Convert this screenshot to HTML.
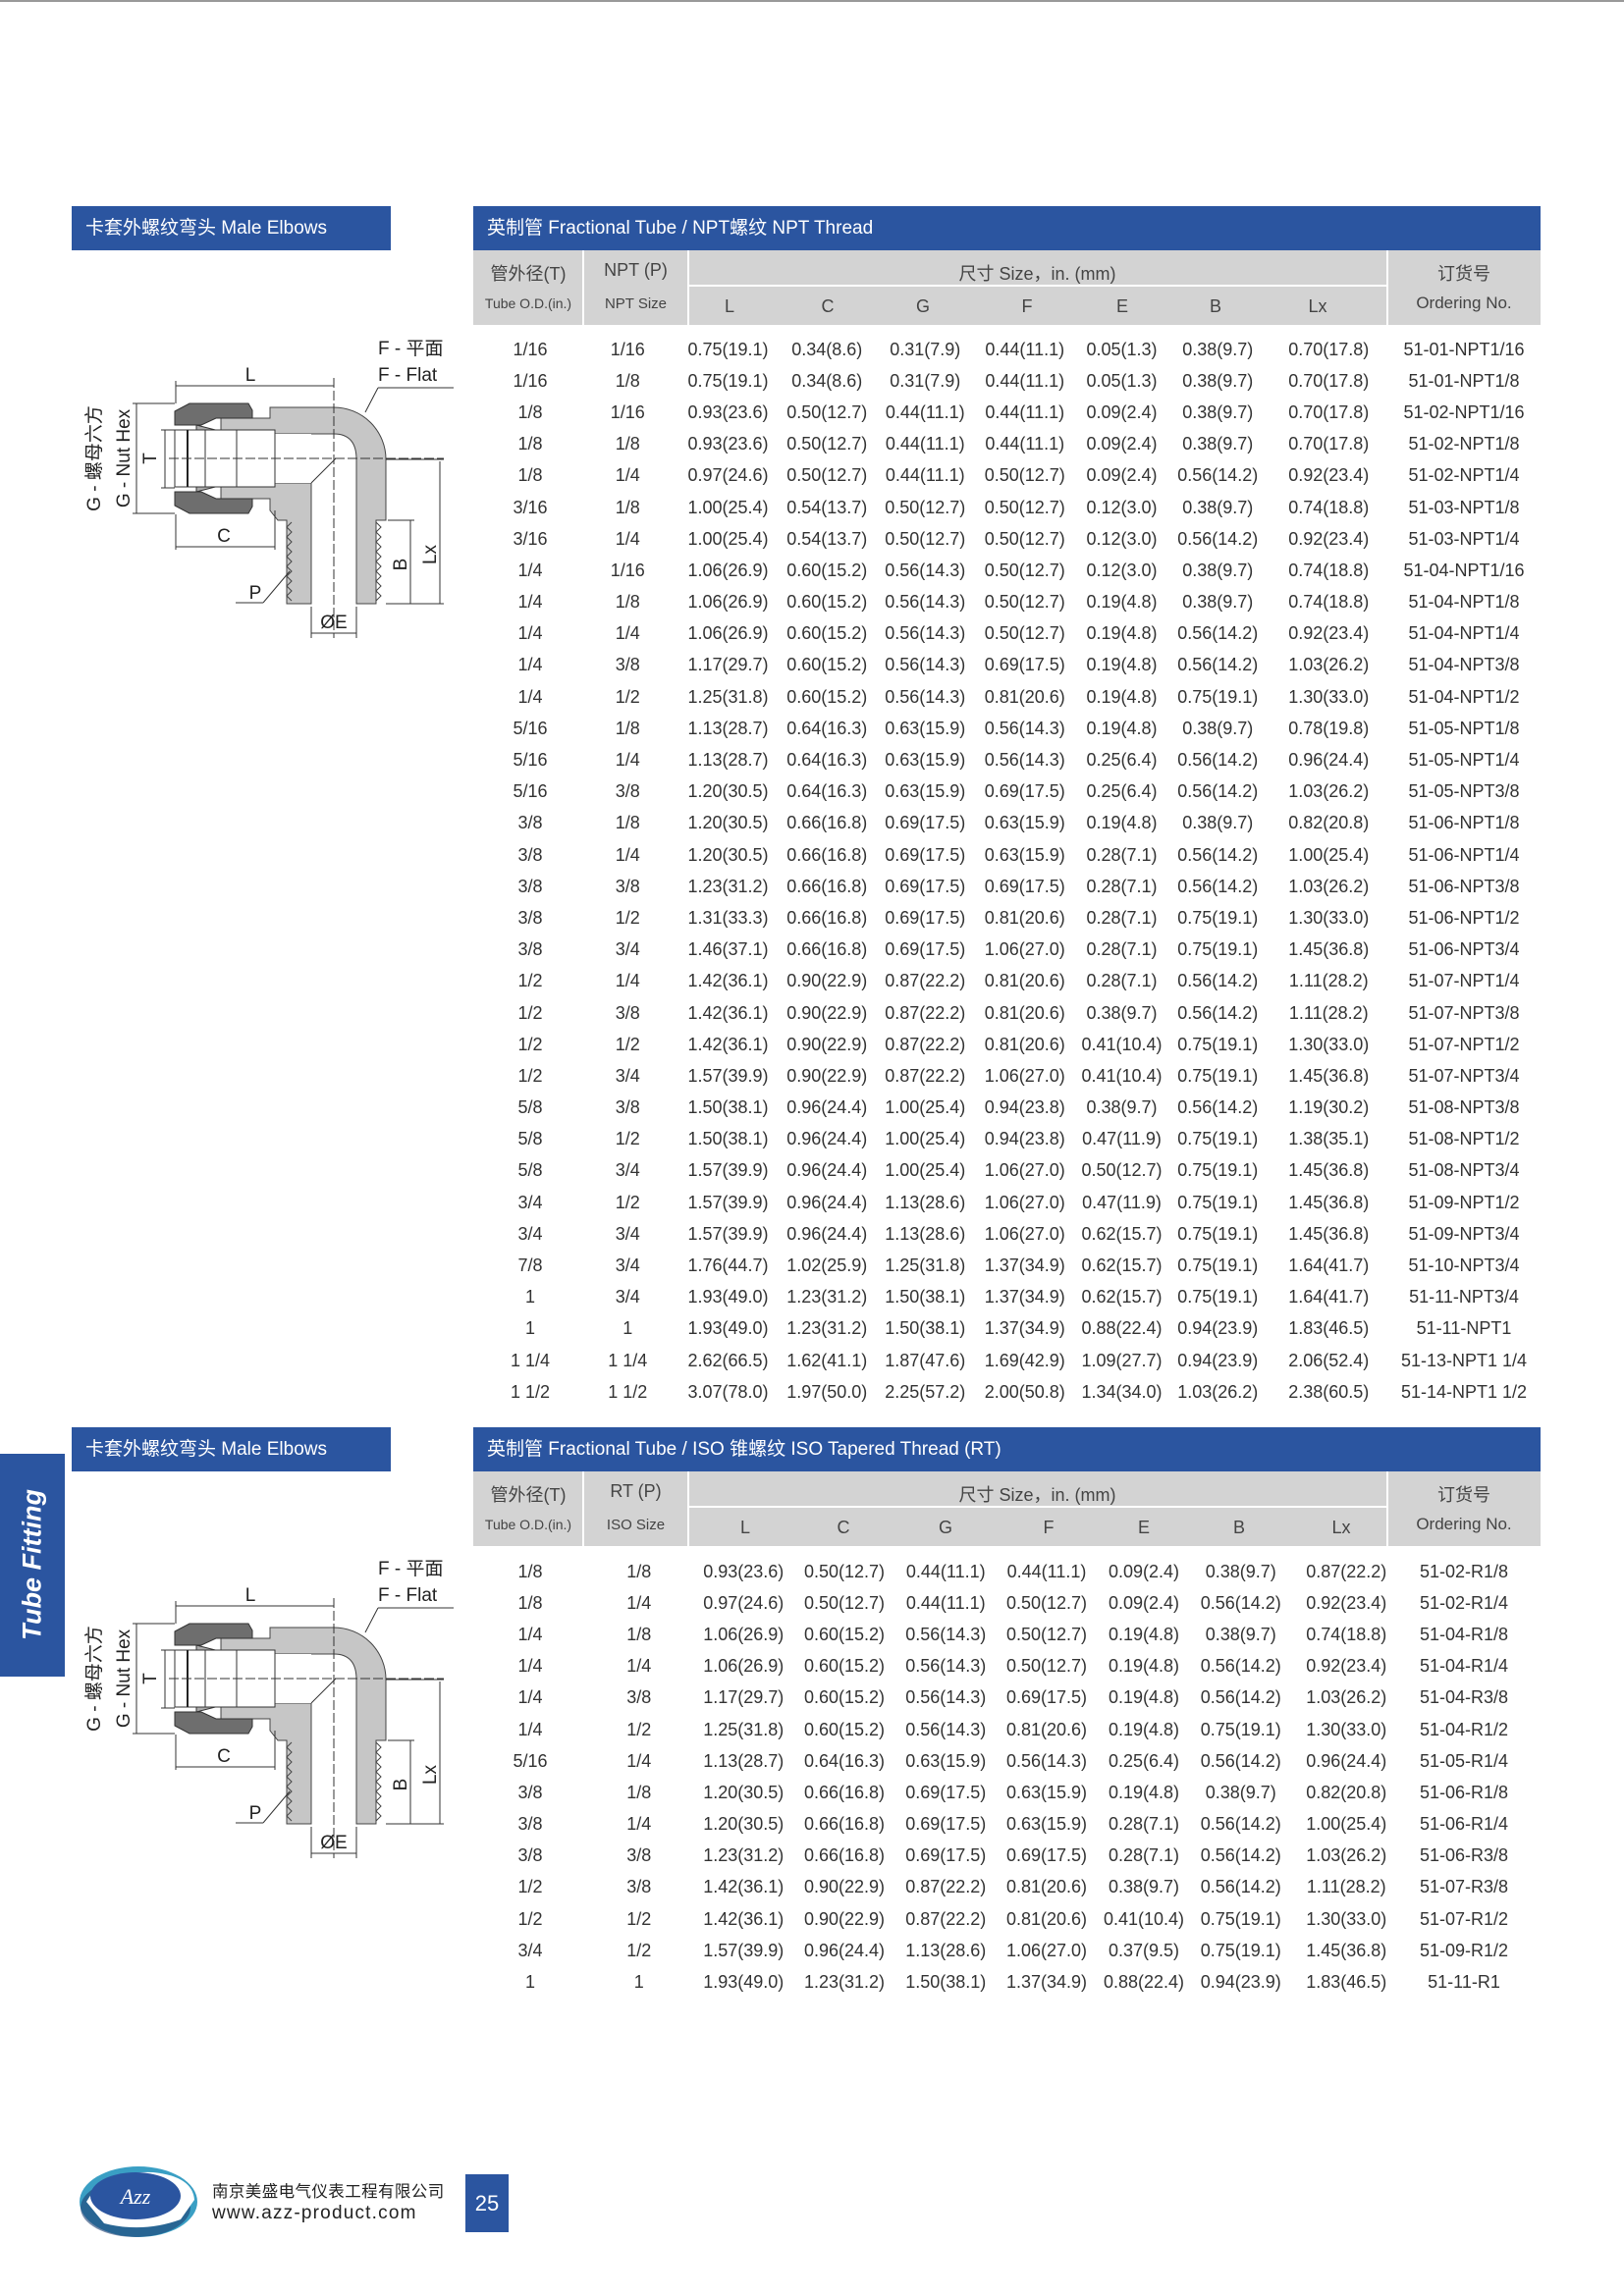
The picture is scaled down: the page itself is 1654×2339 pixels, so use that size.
<!DOCTYPE html>
<html><head><meta charset="utf-8">
<style>
*{margin:0;padding:0;box-sizing:border-box}
body{width:1654px;height:2339px;position:relative;background:#fff;font-family:"Liberation Sans","Noto Sans CJK SC",sans-serif;color:#333;overflow:hidden}
.abs{position:absolute}
.bar{position:absolute;background:#2b55a0;color:#fff;font-size:19px;line-height:45px;padding-left:14px;white-space:nowrap}
.gray{position:absolute;background:#d3d3d3}
.vl{position:absolute;background:#fff;width:2px}
.hd{position:absolute;text-align:center;white-space:nowrap;color:#444}
.rows{position:absolute}
.r{display:flex;align-items:center;white-space:nowrap;font-size:18px;color:#333}
.r span{text-align:center;flex:none}
#t1 .r{height:32.2px}
#t2 .r{height:32.2px}
#t1 .r span:nth-child(1){width:97px}#t1 .r span:nth-child(2){width:101.5px}#t1 .r span:nth-child(3){width:103px}#t1 .r span:nth-child(4){width:98.5px}#t1 .r span:nth-child(5){width:101.5px}#t1 .r span:nth-child(6){width:101.5px}#t1 .r span:nth-child(7){width:96px}#t1 .r span:nth-child(8){width:99.5px}#t1 .r span:nth-child(9){width:126.5px}#t1 .r span:nth-child(10){width:149px}
#t2 .r span:nth-child(1){width:112px}#t2 .r span:nth-child(2){width:109.5px}#t2 .r span:nth-child(3){width:103.5px}#t2 .r span:nth-child(4){width:102px}#t2 .r span:nth-child(5){width:104.5px}#t2 .r span:nth-child(6){width:101px}#t2 .r span:nth-child(7){width:97px}#t2 .r span:nth-child(8){width:100.5px}#t2 .r span:nth-child(9){width:114.5px}#t2 .r span:nth-child(10){width:125px}
svg text{font-family:"Liberation Sans","Noto Sans CJK SC",sans-serif;fill:#222}
</style></head><body>
<div class="abs" style="left:0;top:0;width:1654px;height:2px;background:#999"></div>

<svg width="0" height="0" style="position:absolute">
<defs>
<g id="fit">
 <path d="M165,106 L215,106 L215,95 L280,95 A53,53 0 0 1 333,148 L333,210 L323,210 L323,295 L303,295 L303,148 Q303,122 280,122 L165,122 Z" fill="#c6c6c6" stroke="#444" stroke-width="1"/>
 <path d="M165,188 L215,188 L215,200 L223,210 L232,210 L232,295 L257,295 L257,172 L165,172 Z" fill="#c6c6c6" stroke="#444" stroke-width="1"/>
 <path d="M118,99 L133,91 L193,91 L197,98 L197,106 L160,106 L145,113 L118,113 Z" fill="#6e6e6e" stroke="#333" stroke-width="1"/>
 <path d="M118,195 L133,203 L193,203 L197,196 L197,188 L160,188 L145,181 L118,181 Z" fill="#6e6e6e" stroke="#333" stroke-width="1"/>
 <path d="M140,113 L175,122 L175,172 L140,181 Z" fill="#aaa" stroke="#333" stroke-width="1"/>
 <rect x="118" y="118" width="102" height="58" fill="#fff" stroke="#333" stroke-width="1"/>
 <rect x="220" y="122" width="37" height="50" fill="#fff"/>
 <line x1="131" y1="118" x2="131" y2="176" stroke="#222" stroke-width="2"/>
 <line x1="149" y1="118" x2="149" y2="176" stroke="#333"/>
 <line x1="181" y1="118" x2="181" y2="176" stroke="#333"/>
 <line x1="220" y1="122" x2="220" y2="172" stroke="#333"/>
 <line x1="257" y1="172" x2="282" y2="147" stroke="#333"/>
 <polyline points="237,212 232,217 237,222 232,227 237,232 232,237 237,242 232,247 237,252 232,257 237,262 232,267 237,272 232,277 237,282 232,287 237,292" fill="none" stroke="#444"/>
 <polyline points="323,212 328,217 323,222 328,227 323,232 328,237 323,242 328,247 323,252 328,257 323,262 328,267 323,272 328,277 323,282 328,287 323,292" fill="none" stroke="#444"/>
 <line x1="112" y1="147" x2="392" y2="147" stroke="#333" stroke-dasharray="10,3"/>
 <line x1="280" y1="65" x2="280" y2="330" stroke="#333" stroke-dasharray="10,3"/>
 <g stroke="#333" stroke-width="1" fill="none">
  <line x1="119" y1="73" x2="280" y2="73"/><line x1="119" y1="68" x2="119" y2="91"/>
  <line x1="119" y1="237" x2="220" y2="237"/><line x1="119" y1="204" x2="119" y2="240"/><line x1="220" y1="200" x2="220" y2="240"/>
  <line x1="79" y1="91" x2="79" y2="203"/><line x1="75" y1="91" x2="118" y2="91"/><line x1="75" y1="203" x2="118" y2="203"/>
  <line x1="108" y1="118" x2="108" y2="177"/><line x1="104" y1="118" x2="118" y2="118"/><line x1="104" y1="177" x2="118" y2="177"/>
  <line x1="388" y1="150" x2="388" y2="295"/><line x1="333" y1="148" x2="392" y2="148"/><line x1="333" y1="295" x2="392" y2="295"/>
  <line x1="358" y1="210" x2="358" y2="295"/><line x1="335" y1="210" x2="362" y2="210"/>
  <line x1="257" y1="298" x2="257" y2="330"/><line x1="303" y1="298" x2="303" y2="330"/><line x1="257" y1="325" x2="303" y2="325"/>
  <line x1="180" y1="294" x2="208" y2="294"/><line x1="208" y1="294" x2="235" y2="262"/>
  <line x1="325" y1="75" x2="402" y2="75"/><line x1="325" y1="75" x2="312" y2="100"/>
 </g>
</g>
</defs>
</svg>

<div class="bar" style="left:73px;top:210px;width:325px">卡套外螺纹弯头 Male Elbows</div>
<div class="bar" style="left:482px;top:210px;width:1087px">英制管 Fractional Tube / NPT螺纹 NPT Thread</div>
<div class="gray" style="left:482px;top:255px;width:1087px;height:76px"></div>
<div class="vl" style="left:593px;top:255px;height:76px"></div>
<div class="vl" style="left:700px;top:255px;height:76px"></div>
<div class="vl" style="left:1412px;top:255px;height:76px"></div>
<div class="abs" style="left:701px;top:290px;width:711px;height:2px;background:#fff"></div>
<div class="hd" style="left:482px;top:265px;width:112px;font-size:18px">管外径(T)</div>
<div class="hd" style="left:482px;top:301px;width:112px;font-size:14px">Tube O.D.(in.)</div>
<div class="hd" style="left:594px;top:265px;width:107px;font-size:18px">NPT (P)</div>
<div class="hd" style="left:594px;top:301px;width:107px;font-size:15px">NPT Size</div>
<div class="hd" style="left:701px;top:265px;width:711px;font-size:18px">尺寸 Size，in. (mm)</div>
<div class="hd" style="left:1413px;top:265px;width:156px;font-size:18px">订货号</div>
<div class="hd" style="left:1413px;top:299px;width:156px;font-size:17px">Ordering No.</div>
<div class="hd" style="left:713px;top:302px;width:60px;font-size:18px">L</div>
<div class="hd" style="left:813px;top:302px;width:60px;font-size:18px">C</div>
<div class="hd" style="left:910px;top:302px;width:60px;font-size:18px">G</div>
<div class="hd" style="left:1016px;top:302px;width:60px;font-size:18px">F</div>
<div class="hd" style="left:1113px;top:302px;width:60px;font-size:18px">E</div>
<div class="hd" style="left:1208px;top:302px;width:60px;font-size:18px">B</div>
<div class="hd" style="left:1312px;top:302px;width:60px;font-size:18px">Lx</div>

<svg class="abs" style="left:60px;top:320px" width="420" height="360" viewBox="0 0 420 360">
<use href="#fit"/>
<text x="325" y="41" font-size="19">F - 平面</text>
<text x="325" y="68" font-size="19">F - Flat</text>
<text x="195" y="68" font-size="19" text-anchor="middle">L</text>
<text x="168" y="232" font-size="19" text-anchor="middle">C</text>
<text x="200" y="290" font-size="19" text-anchor="middle">P</text>
<text x="280" y="320" font-size="19" text-anchor="middle">ØE</text>
<text transform="translate(99,147) rotate(-90)" font-size="19" text-anchor="middle">T</text>
<text transform="translate(42,147) rotate(-90)" font-size="19" text-anchor="middle">G - 螺母六方</text>
<text transform="translate(72,147) rotate(-90)" font-size="19" text-anchor="middle">G - Nut Hex</text>
<text transform="translate(384,245) rotate(-90)" font-size="19" text-anchor="middle">Lx</text>
<text transform="translate(354,255) rotate(-90)" font-size="19" text-anchor="middle">B</text>
</svg>

<div class="rows" id="t1" style="left:491.5px;top:340px">
<div class="r"><span>1/16</span><span>1/16</span><span>0.75(19.1)</span><span>0.34(8.6)</span><span>0.31(7.9)</span><span>0.44(11.1)</span><span>0.05(1.3)</span><span>0.38(9.7)</span><span>0.70(17.8)</span><span>51-01-NPT1/16</span></div>
<div class="r"><span>1/16</span><span>1/8</span><span>0.75(19.1)</span><span>0.34(8.6)</span><span>0.31(7.9)</span><span>0.44(11.1)</span><span>0.05(1.3)</span><span>0.38(9.7)</span><span>0.70(17.8)</span><span>51-01-NPT1/8</span></div>
<div class="r"><span>1/8</span><span>1/16</span><span>0.93(23.6)</span><span>0.50(12.7)</span><span>0.44(11.1)</span><span>0.44(11.1)</span><span>0.09(2.4)</span><span>0.38(9.7)</span><span>0.70(17.8)</span><span>51-02-NPT1/16</span></div>
<div class="r"><span>1/8</span><span>1/8</span><span>0.93(23.6)</span><span>0.50(12.7)</span><span>0.44(11.1)</span><span>0.44(11.1)</span><span>0.09(2.4)</span><span>0.38(9.7)</span><span>0.70(17.8)</span><span>51-02-NPT1/8</span></div>
<div class="r"><span>1/8</span><span>1/4</span><span>0.97(24.6)</span><span>0.50(12.7)</span><span>0.44(11.1)</span><span>0.50(12.7)</span><span>0.09(2.4)</span><span>0.56(14.2)</span><span>0.92(23.4)</span><span>51-02-NPT1/4</span></div>
<div class="r"><span>3/16</span><span>1/8</span><span>1.00(25.4)</span><span>0.54(13.7)</span><span>0.50(12.7)</span><span>0.50(12.7)</span><span>0.12(3.0)</span><span>0.38(9.7)</span><span>0.74(18.8)</span><span>51-03-NPT1/8</span></div>
<div class="r"><span>3/16</span><span>1/4</span><span>1.00(25.4)</span><span>0.54(13.7)</span><span>0.50(12.7)</span><span>0.50(12.7)</span><span>0.12(3.0)</span><span>0.56(14.2)</span><span>0.92(23.4)</span><span>51-03-NPT1/4</span></div>
<div class="r"><span>1/4</span><span>1/16</span><span>1.06(26.9)</span><span>0.60(15.2)</span><span>0.56(14.3)</span><span>0.50(12.7)</span><span>0.12(3.0)</span><span>0.38(9.7)</span><span>0.74(18.8)</span><span>51-04-NPT1/16</span></div>
<div class="r"><span>1/4</span><span>1/8</span><span>1.06(26.9)</span><span>0.60(15.2)</span><span>0.56(14.3)</span><span>0.50(12.7)</span><span>0.19(4.8)</span><span>0.38(9.7)</span><span>0.74(18.8)</span><span>51-04-NPT1/8</span></div>
<div class="r"><span>1/4</span><span>1/4</span><span>1.06(26.9)</span><span>0.60(15.2)</span><span>0.56(14.3)</span><span>0.50(12.7)</span><span>0.19(4.8)</span><span>0.56(14.2)</span><span>0.92(23.4)</span><span>51-04-NPT1/4</span></div>
<div class="r"><span>1/4</span><span>3/8</span><span>1.17(29.7)</span><span>0.60(15.2)</span><span>0.56(14.3)</span><span>0.69(17.5)</span><span>0.19(4.8)</span><span>0.56(14.2)</span><span>1.03(26.2)</span><span>51-04-NPT3/8</span></div>
<div class="r"><span>1/4</span><span>1/2</span><span>1.25(31.8)</span><span>0.60(15.2)</span><span>0.56(14.3)</span><span>0.81(20.6)</span><span>0.19(4.8)</span><span>0.75(19.1)</span><span>1.30(33.0)</span><span>51-04-NPT1/2</span></div>
<div class="r"><span>5/16</span><span>1/8</span><span>1.13(28.7)</span><span>0.64(16.3)</span><span>0.63(15.9)</span><span>0.56(14.3)</span><span>0.19(4.8)</span><span>0.38(9.7)</span><span>0.78(19.8)</span><span>51-05-NPT1/8</span></div>
<div class="r"><span>5/16</span><span>1/4</span><span>1.13(28.7)</span><span>0.64(16.3)</span><span>0.63(15.9)</span><span>0.56(14.3)</span><span>0.25(6.4)</span><span>0.56(14.2)</span><span>0.96(24.4)</span><span>51-05-NPT1/4</span></div>
<div class="r"><span>5/16</span><span>3/8</span><span>1.20(30.5)</span><span>0.64(16.3)</span><span>0.63(15.9)</span><span>0.69(17.5)</span><span>0.25(6.4)</span><span>0.56(14.2)</span><span>1.03(26.2)</span><span>51-05-NPT3/8</span></div>
<div class="r"><span>3/8</span><span>1/8</span><span>1.20(30.5)</span><span>0.66(16.8)</span><span>0.69(17.5)</span><span>0.63(15.9)</span><span>0.19(4.8)</span><span>0.38(9.7)</span><span>0.82(20.8)</span><span>51-06-NPT1/8</span></div>
<div class="r"><span>3/8</span><span>1/4</span><span>1.20(30.5)</span><span>0.66(16.8)</span><span>0.69(17.5)</span><span>0.63(15.9)</span><span>0.28(7.1)</span><span>0.56(14.2)</span><span>1.00(25.4)</span><span>51-06-NPT1/4</span></div>
<div class="r"><span>3/8</span><span>3/8</span><span>1.23(31.2)</span><span>0.66(16.8)</span><span>0.69(17.5)</span><span>0.69(17.5)</span><span>0.28(7.1)</span><span>0.56(14.2)</span><span>1.03(26.2)</span><span>51-06-NPT3/8</span></div>
<div class="r"><span>3/8</span><span>1/2</span><span>1.31(33.3)</span><span>0.66(16.8)</span><span>0.69(17.5)</span><span>0.81(20.6)</span><span>0.28(7.1)</span><span>0.75(19.1)</span><span>1.30(33.0)</span><span>51-06-NPT1/2</span></div>
<div class="r"><span>3/8</span><span>3/4</span><span>1.46(37.1)</span><span>0.66(16.8)</span><span>0.69(17.5)</span><span>1.06(27.0)</span><span>0.28(7.1)</span><span>0.75(19.1)</span><span>1.45(36.8)</span><span>51-06-NPT3/4</span></div>
<div class="r"><span>1/2</span><span>1/4</span><span>1.42(36.1)</span><span>0.90(22.9)</span><span>0.87(22.2)</span><span>0.81(20.6)</span><span>0.28(7.1)</span><span>0.56(14.2)</span><span>1.11(28.2)</span><span>51-07-NPT1/4</span></div>
<div class="r"><span>1/2</span><span>3/8</span><span>1.42(36.1)</span><span>0.90(22.9)</span><span>0.87(22.2)</span><span>0.81(20.6)</span><span>0.38(9.7)</span><span>0.56(14.2)</span><span>1.11(28.2)</span><span>51-07-NPT3/8</span></div>
<div class="r"><span>1/2</span><span>1/2</span><span>1.42(36.1)</span><span>0.90(22.9)</span><span>0.87(22.2)</span><span>0.81(20.6)</span><span>0.41(10.4)</span><span>0.75(19.1)</span><span>1.30(33.0)</span><span>51-07-NPT1/2</span></div>
<div class="r"><span>1/2</span><span>3/4</span><span>1.57(39.9)</span><span>0.90(22.9)</span><span>0.87(22.2)</span><span>1.06(27.0)</span><span>0.41(10.4)</span><span>0.75(19.1)</span><span>1.45(36.8)</span><span>51-07-NPT3/4</span></div>
<div class="r"><span>5/8</span><span>3/8</span><span>1.50(38.1)</span><span>0.96(24.4)</span><span>1.00(25.4)</span><span>0.94(23.8)</span><span>0.38(9.7)</span><span>0.56(14.2)</span><span>1.19(30.2)</span><span>51-08-NPT3/8</span></div>
<div class="r"><span>5/8</span><span>1/2</span><span>1.50(38.1)</span><span>0.96(24.4)</span><span>1.00(25.4)</span><span>0.94(23.8)</span><span>0.47(11.9)</span><span>0.75(19.1)</span><span>1.38(35.1)</span><span>51-08-NPT1/2</span></div>
<div class="r"><span>5/8</span><span>3/4</span><span>1.57(39.9)</span><span>0.96(24.4)</span><span>1.00(25.4)</span><span>1.06(27.0)</span><span>0.50(12.7)</span><span>0.75(19.1)</span><span>1.45(36.8)</span><span>51-08-NPT3/4</span></div>
<div class="r"><span>3/4</span><span>1/2</span><span>1.57(39.9)</span><span>0.96(24.4)</span><span>1.13(28.6)</span><span>1.06(27.0)</span><span>0.47(11.9)</span><span>0.75(19.1)</span><span>1.45(36.8)</span><span>51-09-NPT1/2</span></div>
<div class="r"><span>3/4</span><span>3/4</span><span>1.57(39.9)</span><span>0.96(24.4)</span><span>1.13(28.6)</span><span>1.06(27.0)</span><span>0.62(15.7)</span><span>0.75(19.1)</span><span>1.45(36.8)</span><span>51-09-NPT3/4</span></div>
<div class="r"><span>7/8</span><span>3/4</span><span>1.76(44.7)</span><span>1.02(25.9)</span><span>1.25(31.8)</span><span>1.37(34.9)</span><span>0.62(15.7)</span><span>0.75(19.1)</span><span>1.64(41.7)</span><span>51-10-NPT3/4</span></div>
<div class="r"><span>1</span><span>3/4</span><span>1.93(49.0)</span><span>1.23(31.2)</span><span>1.50(38.1)</span><span>1.37(34.9)</span><span>0.62(15.7)</span><span>0.75(19.1)</span><span>1.64(41.7)</span><span>51-11-NPT3/4</span></div>
<div class="r"><span>1</span><span>1</span><span>1.93(49.0)</span><span>1.23(31.2)</span><span>1.50(38.1)</span><span>1.37(34.9)</span><span>0.88(22.4)</span><span>0.94(23.9)</span><span>1.83(46.5)</span><span>51-11-NPT1</span></div>
<div class="r"><span>1 1/4</span><span>1 1/4</span><span>2.62(66.5)</span><span>1.62(41.1)</span><span>1.87(47.6)</span><span>1.69(42.9)</span><span>1.09(27.7)</span><span>0.94(23.9)</span><span>2.06(52.4)</span><span>51-13-NPT1 1/4</span></div>
<div class="r"><span>1 1/2</span><span>1 1/2</span><span>3.07(78.0)</span><span>1.97(50.0)</span><span>2.25(57.2)</span><span>2.00(50.8)</span><span>1.34(34.0)</span><span>1.03(26.2)</span><span>2.38(60.5)</span><span>51-14-NPT1 1/2</span></div>
</div>

<div class="abs" style="left:0;top:1481px;width:66px;height:227px;background:#2b55a0"></div>
<div class="abs" style="left:33px;top:1594px;transform:translate(-50%,-50%) rotate(-90deg);color:#fff;font-weight:bold;font-style:italic;font-size:27px;white-space:nowrap">Tube Fitting</div>

<div class="bar" style="left:73px;top:1454px;width:325px">卡套外螺纹弯头 Male Elbows</div>
<div class="bar" style="left:482px;top:1454px;width:1087px">英制管 Fractional Tube / ISO 锥螺纹 ISO Tapered Thread (RT)</div>
<div class="gray" style="left:482px;top:1499px;width:1087px;height:76px"></div>
<div class="vl" style="left:593px;top:1499px;height:76px"></div>
<div class="vl" style="left:700px;top:1499px;height:76px"></div>
<div class="vl" style="left:1412px;top:1499px;height:76px"></div>
<div class="abs" style="left:701px;top:1534px;width:711px;height:2px;background:#fff"></div>
<div class="hd" style="left:482px;top:1509px;width:112px;font-size:18px">管外径(T)</div>
<div class="hd" style="left:482px;top:1545px;width:112px;font-size:14px">Tube O.D.(in.)</div>
<div class="hd" style="left:594px;top:1509px;width:107px;font-size:18px">RT (P)</div>
<div class="hd" style="left:594px;top:1545px;width:107px;font-size:15px">ISO Size</div>
<div class="hd" style="left:701px;top:1509px;width:711px;font-size:18px">尺寸 Size，in. (mm)</div>
<div class="hd" style="left:1413px;top:1509px;width:156px;font-size:18px">订货号</div>
<div class="hd" style="left:1413px;top:1543px;width:156px;font-size:17px">Ordering No.</div>
<div class="hd" style="left:729px;top:1546px;width:60px;font-size:18px">L</div>
<div class="hd" style="left:829px;top:1546px;width:60px;font-size:18px">C</div>
<div class="hd" style="left:933px;top:1546px;width:60px;font-size:18px">G</div>
<div class="hd" style="left:1038px;top:1546px;width:60px;font-size:18px">F</div>
<div class="hd" style="left:1135px;top:1546px;width:60px;font-size:18px">E</div>
<div class="hd" style="left:1232px;top:1546px;width:60px;font-size:18px">B</div>
<div class="hd" style="left:1336px;top:1546px;width:60px;font-size:18px">Lx</div>

<svg class="abs" style="left:60px;top:1563px" width="420" height="360" viewBox="0 0 420 360">
<use href="#fit"/>
<text x="325" y="41" font-size="19">F - 平面</text>
<text x="325" y="68" font-size="19">F - Flat</text>
<text x="195" y="68" font-size="19" text-anchor="middle">L</text>
<text x="168" y="232" font-size="19" text-anchor="middle">C</text>
<text x="200" y="290" font-size="19" text-anchor="middle">P</text>
<text x="280" y="320" font-size="19" text-anchor="middle">ØE</text>
<text transform="translate(99,147) rotate(-90)" font-size="19" text-anchor="middle">T</text>
<text transform="translate(42,147) rotate(-90)" font-size="19" text-anchor="middle">G - 螺母六方</text>
<text transform="translate(72,147) rotate(-90)" font-size="19" text-anchor="middle">G - Nut Hex</text>
<text transform="translate(384,245) rotate(-90)" font-size="19" text-anchor="middle">Lx</text>
<text transform="translate(354,255) rotate(-90)" font-size="19" text-anchor="middle">B</text>
</svg>

<div class="rows" id="t2" style="left:484px;top:1585px">
<div class="r"><span>1/8</span><span>1/8</span><span>0.93(23.6)</span><span>0.50(12.7)</span><span>0.44(11.1)</span><span>0.44(11.1)</span><span>0.09(2.4)</span><span>0.38(9.7)</span><span>0.87(22.2)</span><span>51-02-R1/8</span></div>
<div class="r"><span>1/8</span><span>1/4</span><span>0.97(24.6)</span><span>0.50(12.7)</span><span>0.44(11.1)</span><span>0.50(12.7)</span><span>0.09(2.4)</span><span>0.56(14.2)</span><span>0.92(23.4)</span><span>51-02-R1/4</span></div>
<div class="r"><span>1/4</span><span>1/8</span><span>1.06(26.9)</span><span>0.60(15.2)</span><span>0.56(14.3)</span><span>0.50(12.7)</span><span>0.19(4.8)</span><span>0.38(9.7)</span><span>0.74(18.8)</span><span>51-04-R1/8</span></div>
<div class="r"><span>1/4</span><span>1/4</span><span>1.06(26.9)</span><span>0.60(15.2)</span><span>0.56(14.3)</span><span>0.50(12.7)</span><span>0.19(4.8)</span><span>0.56(14.2)</span><span>0.92(23.4)</span><span>51-04-R1/4</span></div>
<div class="r"><span>1/4</span><span>3/8</span><span>1.17(29.7)</span><span>0.60(15.2)</span><span>0.56(14.3)</span><span>0.69(17.5)</span><span>0.19(4.8)</span><span>0.56(14.2)</span><span>1.03(26.2)</span><span>51-04-R3/8</span></div>
<div class="r"><span>1/4</span><span>1/2</span><span>1.25(31.8)</span><span>0.60(15.2)</span><span>0.56(14.3)</span><span>0.81(20.6)</span><span>0.19(4.8)</span><span>0.75(19.1)</span><span>1.30(33.0)</span><span>51-04-R1/2</span></div>
<div class="r"><span>5/16</span><span>1/4</span><span>1.13(28.7)</span><span>0.64(16.3)</span><span>0.63(15.9)</span><span>0.56(14.3)</span><span>0.25(6.4)</span><span>0.56(14.2)</span><span>0.96(24.4)</span><span>51-05-R1/4</span></div>
<div class="r"><span>3/8</span><span>1/8</span><span>1.20(30.5)</span><span>0.66(16.8)</span><span>0.69(17.5)</span><span>0.63(15.9)</span><span>0.19(4.8)</span><span>0.38(9.7)</span><span>0.82(20.8)</span><span>51-06-R1/8</span></div>
<div class="r"><span>3/8</span><span>1/4</span><span>1.20(30.5)</span><span>0.66(16.8)</span><span>0.69(17.5)</span><span>0.63(15.9)</span><span>0.28(7.1)</span><span>0.56(14.2)</span><span>1.00(25.4)</span><span>51-06-R1/4</span></div>
<div class="r"><span>3/8</span><span>3/8</span><span>1.23(31.2)</span><span>0.66(16.8)</span><span>0.69(17.5)</span><span>0.69(17.5)</span><span>0.28(7.1)</span><span>0.56(14.2)</span><span>1.03(26.2)</span><span>51-06-R3/8</span></div>
<div class="r"><span>1/2</span><span>3/8</span><span>1.42(36.1)</span><span>0.90(22.9)</span><span>0.87(22.2)</span><span>0.81(20.6)</span><span>0.38(9.7)</span><span>0.56(14.2)</span><span>1.11(28.2)</span><span>51-07-R3/8</span></div>
<div class="r"><span>1/2</span><span>1/2</span><span>1.42(36.1)</span><span>0.90(22.9)</span><span>0.87(22.2)</span><span>0.81(20.6)</span><span>0.41(10.4)</span><span>0.75(19.1)</span><span>1.30(33.0)</span><span>51-07-R1/2</span></div>
<div class="r"><span>3/4</span><span>1/2</span><span>1.57(39.9)</span><span>0.96(24.4)</span><span>1.13(28.6)</span><span>1.06(27.0)</span><span>0.37(9.5)</span><span>0.75(19.1)</span><span>1.45(36.8)</span><span>51-09-R1/2</span></div>
<div class="r"><span>1</span><span>1</span><span>1.93(49.0)</span><span>1.23(31.2)</span><span>1.50(38.1)</span><span>1.37(34.9)</span><span>0.88(22.4)</span><span>0.94(23.9)</span><span>1.83(46.5)</span><span>51-11-R1</span></div>
</div>

<svg class="abs" style="left:76px;top:2203px" width="135" height="80" viewBox="0 0 135 80">
 <ellipse cx="65" cy="40" rx="60" ry="36" fill="#3a9fc4"/>
 <ellipse cx="62" cy="46" rx="56" ry="30" fill="#1c3f73" opacity="0.6"/>
 <path d="M12,40 Q30,8 80,10 Q120,14 122,38 L108,58 Q70,72 30,62 Z" fill="#fff"/>
 <ellipse cx="62" cy="34" rx="46" ry="24" fill="#2b55a0"/>
 <text x="62" y="42" font-size="22" font-style="italic" text-anchor="middle" style="fill:#fff;font-family:'Liberation Serif',serif">Azz</text>
</svg>
<div class="abs" style="left:216px;top:2219px;font-size:16.5px;letter-spacing:0.4px;color:#222;white-space:nowrap">南京美盛电气仪表工程有限公司</div>
<div class="abs" style="left:216px;top:2244px;font-size:19px;letter-spacing:1.2px;color:#222;white-space:nowrap">www.azz-product.com</div>
<div class="abs" style="left:474px;top:2215px;width:44px;height:59px;background:#2b55a0;color:#fff;font-size:22px;line-height:59px;text-align:center">25</div>
</body></html>
